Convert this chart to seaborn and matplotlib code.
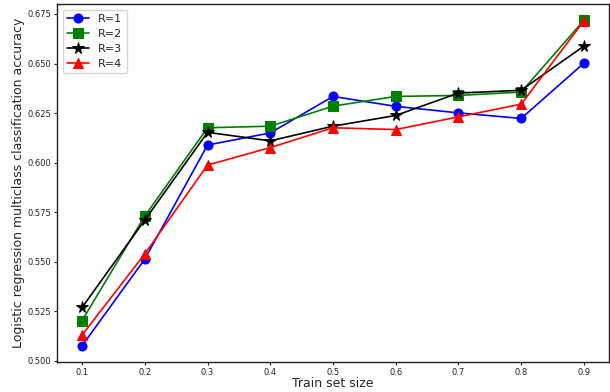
import matplotlib
matplotlib.use("Agg")
import matplotlib.pyplot as plt
import seaborn as sns
import pandas as pd

train_sizes = [0.1, 0.2, 0.3, 0.4, 0.5, 0.6, 0.7, 0.8, 0.9]
acc_r1 = [0.5077, 0.5514, 0.6089, 0.6150, 0.6334, 0.6284, 0.6251, 0.6223, 0.6502]
acc_r2 = [0.5204, 0.5731, 0.6176, 0.6184, 0.6285, 0.6334, 0.6339, 0.6356, 0.6718]
acc_r3 = [0.5270, 0.5711, 0.6153, 0.6110, 0.6184, 0.6238, 0.6351, 0.6365, 0.6588]
acc_r4 = [0.5131, 0.5540, 0.5988, 0.6076, 0.6176, 0.6167, 0.6231, 0.6295, 0.6715]
labels = ["R=1", "R=2", "R=3", "R=4"]
colors = ["blue", "green", "black", "red"]
markers = ["o", "s", "*", "^"]

series = [acc_r1, acc_r2, acc_r3, acc_r4]
df = pd.concat(
    [pd.DataFrame({"size": train_sizes, "acc": s, "R": lab}) for s, lab in zip(series, labels)],
    ignore_index=True,
)

sns.set_style("ticks")
plt.rcParams["font.family"] = ["DejaVu Sans"]

fig = plt.figure(figsize=(6.10, 3.92), dpi=100)
ax = fig.add_axes([57 / 610, 1 - 362 / 392, 552 / 610, 358 / 392])

for lab, col, mk in zip(labels, colors, markers):
    sub = df[df["R"] == lab]
    sns.lineplot(data=sub, x="size", y="acc", color=col, marker=mk,
                 markersize=8.5 if mk == "*" else 6.5, markeredgecolor=col,
                 linewidth=1.2, label=lab, ax=ax)

ax.set_xticks(train_sizes)
ax.set_xticklabels([f"{v:.1f}" for v in train_sizes])
ax.set_yticks([0.500, 0.525, 0.550, 0.575, 0.600, 0.625, 0.650, 0.675])
ax.tick_params(labelsize=6, length=2.5, width=0.8, pad=1.5, colors="#222222")
ax.set_xlabel("Train set size", fontsize=9, labelpad=0)
ax.set_ylabel("Logistic regression multiclass classification accuracy", fontsize=9, labelpad=2)
for sp in ax.spines.values():
    sp.set_visible(True)
    sp.set_linewidth(1.0)
    sp.set_color("#222222")

leg = ax.legend(loc="upper left", fontsize=8, frameon=True, handlelength=2.0,
                borderpad=0.4, labelspacing=0.45)
for t in leg.get_texts():
    t.set_color("#222222")

fig.savefig("out.png", dpi=100)
